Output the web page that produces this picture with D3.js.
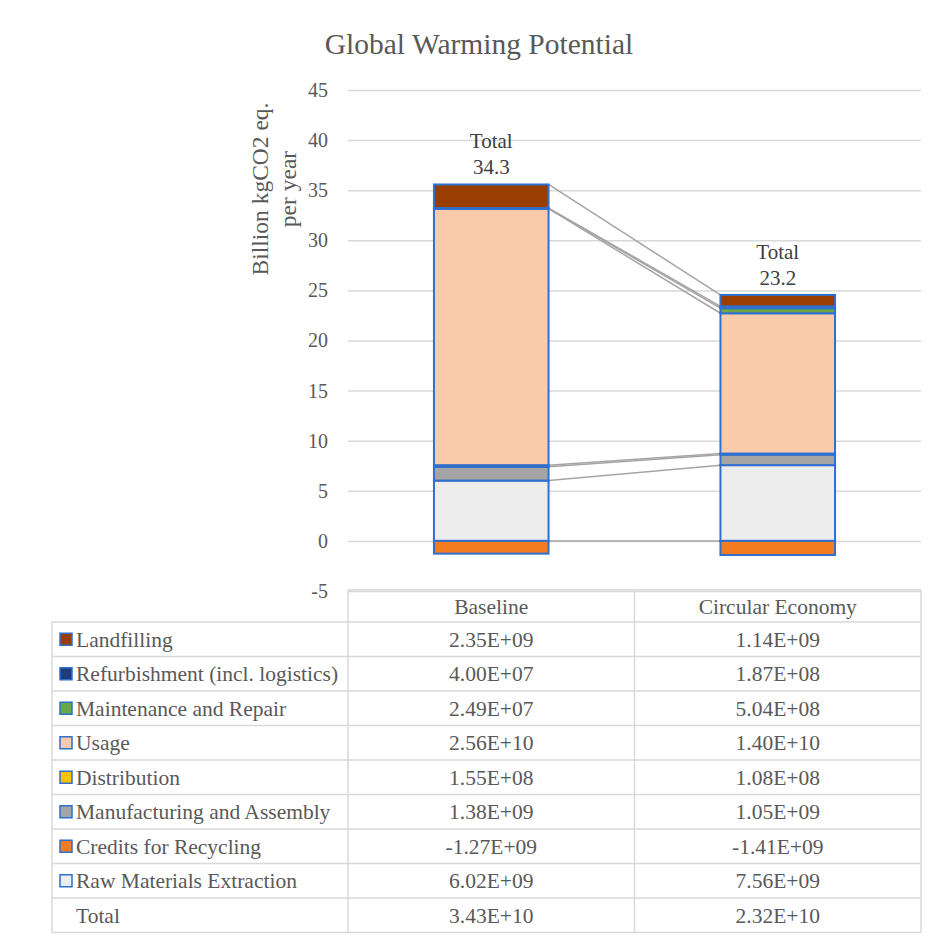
<!DOCTYPE html>
<html>
<head>
<meta charset="utf-8">
<script src="https://cdn.jsdelivr.net/npm/d3@7"></script>
<style>
  html, body { margin: 0; padding: 0; background: #fff; }
  svg { display: block; font-family: "Liberation Serif", "DejaVu Serif", serif; }
</style>
</head>
<body>
<svg id="chart" width="938" height="943"></svg>
<script>
// Scenario columns
const categories = ["Baseline", "Circular Economy"];

// Life-cycle stages, in the order they are listed in the data table
const stages = [
  "Landfilling",
  "Refurbishment (incl. logistics)",
  "Maintenance and Repair",
  "Usage",
  "Distribution",
  "Manufacturing and Assembly",
  "Credits for Recycling",
  "Raw Materials Extraction"
];

// kgCO2 eq. per year, one value per stage (same order as stages)
const baselineValues = [2.35e9, 4.00e7, 2.49e7, 2.56e10, 1.55e8, 1.38e9, -1.27e9, 6.02e9];
const circularValues = [1.14e9, 1.87e8, 5.04e8, 1.40e10, 1.08e8, 1.05e9, -1.41e9, 7.56e9];
const totals = [3.43e10, 2.32e10];

// Stage fill colours
const stageColors = ["#993d00", "#1f3c78", "#6aa846", "#f9cbab", "#ffc000", "#a5a5a5", "#f47c20", "#ededed"];

// Y axis ticks (billion kgCO2 eq.)
const yTicks = [-5, 0, 5, 10, 15, 20, 25, 30, 35, 40, 45];

const svg = d3.select("#chart");
const textColor = "#595959";
const gridColor = "#d9d9d9";
const outline = "#2f6fce";

const plotLeft = 348, plotRight = 921;
const y = d3.scaleLinear().domain([-5, 45]).range([591, 90]);
const x = d3.scaleBand().domain(categories).range([plotLeft, plotRight]).padding(0);
const barW = x.bandwidth() / 2.5;
const barX = c => x(c) + (x.bandwidth() - barW) / 2;

// Rows of stacked data, values in billions
const rows = categories.map((c, i) => {
  const vals = i === 0 ? baselineValues : circularValues;
  const r = { category: c };
  stages.forEach((s, j) => { r[s] = vals[j] / 1e9; });
  return r;
});

// Stack from the bottom up: reverse of table order
const stackKeys = stages.slice().reverse();
const stacked = d3.stack().keys(stackKeys).offset(d3.stackOffsetDiverging)(rows);
const colorOf = d3.scaleOrdinal().domain(stages).range(stageColors);

// Title
svg.append("text")
  .attr("x", 479).attr("y", 54)
  .attr("text-anchor", "middle")
  .attr("font-size", 29.5)
  .attr("fill", textColor)
  .text("Global Warming Potential");

// Gridlines + tick labels
const yAxis = d3.axisLeft(y).tickValues(yTicks).tickSize(-(plotRight - plotLeft)).tickPadding(20).tickFormat(d => String(d));
const ga = svg.append("g").attr("transform", `translate(${plotLeft},0)`).call(yAxis);
ga.select(".domain").remove();
ga.selectAll(".tick line").attr("stroke", gridColor).attr("stroke-width", 1.5);
ga.selectAll(".tick text")
  .attr("fill", textColor)
  .attr("font-size", 20)
  .attr("font-family", "Liberation Serif, serif");

// Axis title (two lines, rotated)
const yTitle = svg.append("text")
  .attr("transform", "translate(268,189) rotate(-90)")
  .attr("text-anchor", "middle")
  .attr("font-size", 23.5)
  .attr("fill", textColor);
yTitle.append("tspan").attr("x", 0).attr("dy", 0).text("Billion kgCO2 eq.");
yTitle.append("tspan").attr("x", 0).attr("dy", 28).text("per year");

// Series lines connecting the outer edge of each stage between columns
const lineG = svg.append("g");
stacked.forEach(layer => {
  const a = layer[0], b = layer[1];
  lineG.append("line")
    .attr("x1", barX(categories[0]) + barW)
    .attr("x2", barX(categories[1]))
    .attr("y1", y(a[1]))
    .attr("y2", y(b[1]))
    .attr("stroke", "#a5a5a5")
    .attr("stroke-width", 1.5);
});

// Stacked bars
const barG = svg.append("g");
stacked.forEach(layer => {
  barG.selectAll(null)
    .data(layer)
    .join("rect")
    .attr("x", d => barX(d.data.category))
    .attr("width", barW)
    .attr("y", d => y(Math.max(d[0], d[1])))
    .attr("height", d => Math.abs(y(d[0]) - y(d[1])))
    .attr("fill", colorOf(layer.key))
    .attr("stroke", outline)
    .attr("stroke-width", 2);
});

// Total labels above each column
categories.forEach((c, i) => {
  const top = d3.max(stacked, l => Math.max(l[i][0], l[i][1]));
  const cx = x(c) + x.bandwidth() / 2;
  const t = svg.append("text")
    .attr("x", cx)
    .attr("text-anchor", "middle")
    .attr("font-size", 21)
    .attr("fill", "#404040");
  t.append("tspan").attr("x", cx).attr("y", y(top) - 36).text("Total");
  t.append("tspan").attr("x", cx).attr("y", y(top) - 10).text(d3.format(".1f")(totals[i] / 1e9));
});

// Data table
const fmtSci = v => {
  const [m, e] = v.toExponential(2).split("e");
  const sign = e[0] === "-" ? "-" : "+";
  const ex = Math.abs(+e).toString().padStart(2, "0");
  return `${m}E${sign}${ex}`;
};

const tableLeft = 52, headerTop = 590, headerBottom = 622, rowH = 34.5;
const tableRows = stages.map((s, j) => ({ label: s, key: true, vals: [baselineValues[j], circularValues[j]] }))
  .concat([{ label: "Total", key: false, vals: totals }]);
const tableBottom = headerBottom + rowH * tableRows.length;
const tableFont = 21.5;

const tg = svg.append("g");
const hline = (x1, x2, yy) => tg.append("line").attr("x1", x1).attr("x2", x2).attr("y1", yy).attr("y2", yy)
  .attr("stroke", gridColor).attr("stroke-width", 1.5);
const vline = (xx, y1, y2) => tg.append("line").attr("x1", xx).attr("x2", xx).attr("y1", y1).attr("y2", y2)
  .attr("stroke", gridColor).attr("stroke-width", 1.5);

hline(plotLeft, plotRight, headerTop);
for (let k = 0; k <= tableRows.length; k++) hline(tableLeft, plotRight, headerBottom + k * rowH);
vline(tableLeft, headerBottom, tableBottom);
vline(plotLeft, headerTop, tableBottom);
vline(x(categories[1]), headerTop, tableBottom);
vline(plotRight, headerTop, tableBottom);

// Header labels
categories.forEach(c => {
  tg.append("text")
    .attr("x", x(c) + x.bandwidth() / 2)
    .attr("y", (headerTop + headerBottom) / 2)
    .attr("dy", "0.35em")
    .attr("text-anchor", "middle")
    .attr("font-size", tableFont)
    .attr("fill", textColor)
    .text(c);
});

tableRows.forEach((r, k) => {
  const cy = headerBottom + k * rowH + rowH / 2;
  if (r.key) {
    tg.append("rect")
      .attr("x", 60).attr("y", cy - 6)
      .attr("width", 12).attr("height", 12)
      .attr("fill", colorOf(r.label))
      .attr("stroke", outline)
      .attr("stroke-width", 1.5);
  }
  tg.append("text")
    .attr("x", 76).attr("y", cy).attr("dy", "0.35em")
    .attr("font-size", tableFont)
    .attr("fill", textColor)
    .text(r.label);
  r.vals.forEach((v, i) => {
    tg.append("text")
      .attr("x", x(categories[i]) + x.bandwidth() / 2)
      .attr("y", cy).attr("dy", "0.35em")
      .attr("text-anchor", "middle")
      .attr("font-size", tableFont)
      .attr("fill", textColor)
      .text(fmtSci(v));
  });
});
</script>
</body>
</html>
